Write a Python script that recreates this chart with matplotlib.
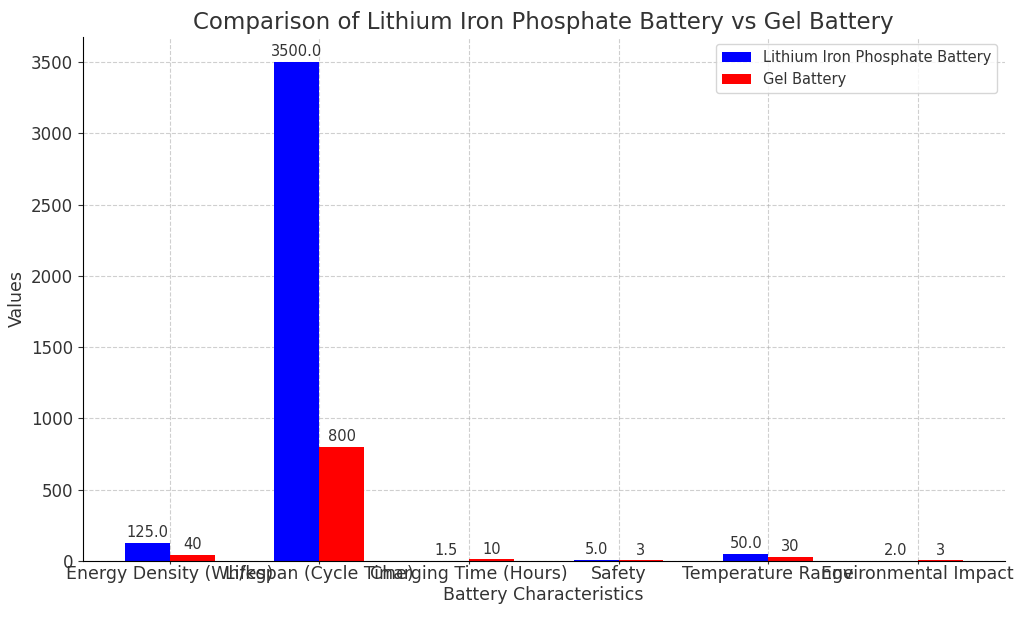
import numpy as np
import matplotlib.pyplot as plt

categories = ["Energy Density (Wh/kg)", "Lifespan (Cycle Time)", "Charging Time (Hours)",
              "Safety", "Temperature Range", "Environmental Impact"]
lfp_values = [125.0, 3500.0, 1.5, 5.0, 50.0, 2.0]
gel_values = [40, 800, 10, 3, 30, 3]

plt.rcParams['text.color'] = '#333333'
plt.rcParams['axes.labelcolor'] = '#333333'
plt.rcParams['xtick.color'] = '#333333'
plt.rcParams['ytick.color'] = '#333333'

x = np.arange(len(categories))
width = 0.3

fig, ax = plt.subplots(figsize=(10.24, 6.17), dpi=100)
bars1 = ax.bar(x - width / 2, lfp_values, width, label="Lithium Iron Phosphate Battery", color="blue")
bars2 = ax.bar(x + width / 2, gel_values, width, label="Gel Battery", color="red")

for b in bars1:
    h = b.get_height()
    ax.annotate(f"{h:.1f}", xy=(b.get_x() + b.get_width() / 2, h), xytext=(0, 2),
                textcoords="offset points", ha="center", va="bottom", fontsize=10.5)
for b in bars2:
    h = b.get_height()
    ax.annotate(f"{h}", xy=(b.get_x() + b.get_width() / 2, h), xytext=(0, 2),
                textcoords="offset points", ha="center", va="bottom", fontsize=10.5)

ax.set_title("Comparison of Lithium Iron Phosphate Battery vs Gel Battery", fontsize=16.5)
ax.set_xlabel("Battery Characteristics", fontsize=12.5, labelpad=2)
ax.set_ylabel("Values", fontsize=12.5)
ax.set_xticks(x)
ax.set_xticklabels(categories, fontsize=12.5)
ax.tick_params(axis="x", length=2.5, pad=0.5)
ax.tick_params(axis="y", labelsize=12)
ax.spines["top"].set_visible(False)
ax.spines["right"].set_visible(False)
ax.grid(True, linestyle="--", alpha=0.6)
ax.set_axisbelow(True)
ax.legend(fontsize=10.5)

fig.subplots_adjust(left=0.081, right=0.981, top=0.94, bottom=0.091)
plt.savefig("out.png")
